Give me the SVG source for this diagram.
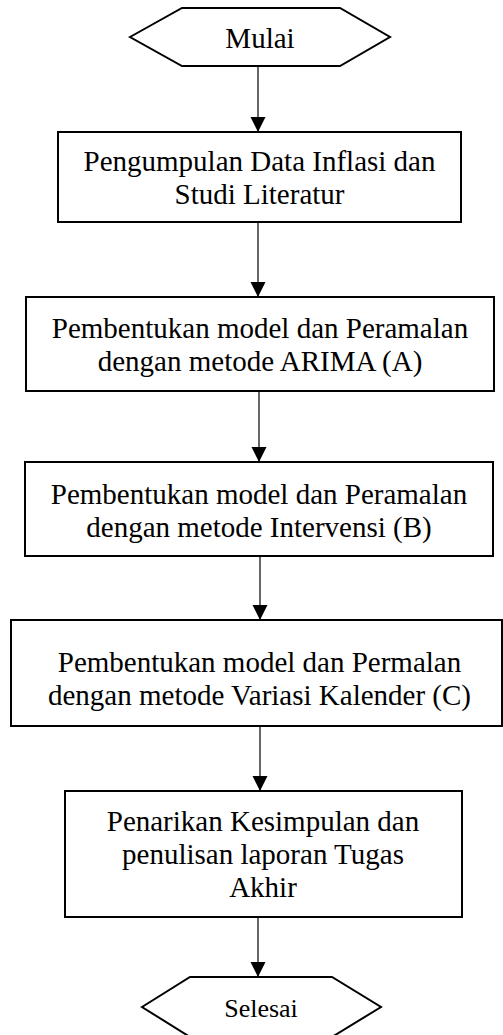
<svg xmlns="http://www.w3.org/2000/svg" width="503" height="1035" viewBox="0 0 503 1035">
<style>
.box{fill:#fff;stroke:#000;stroke-width:2}
.t{font-family:"Liberation Serif","Times New Roman",serif;font-size:29px;fill:#000;text-anchor:middle}
.ts{font-family:"Liberation Serif","Times New Roman",serif;font-size:26px;fill:#000;text-anchor:middle}
.c{stroke:#000;stroke-width:1.2;fill:none;marker-end:url(#ah)}
</style>
<defs>
<marker id="ah" markerUnits="userSpaceOnUse" markerWidth="16" markerHeight="16" viewBox="0 0 16 16" refX="15" refY="8" orient="auto">
<path d="M0,0.5 L15,8 L0,15.5 Z" fill="#000"/>
</marker>
</defs>
<rect width="503" height="1035" fill="#fff"/>
<g id="connectors">
<line class="c" x1="258" y1="66" x2="258" y2="132"/>
<line class="c" x1="258" y1="222" x2="258" y2="297"/>
<line class="c" x1="259" y1="391" x2="259" y2="462"/>
<line class="c" x1="260" y1="556" x2="260" y2="620"/>
<line class="c" x1="260" y1="726" x2="260" y2="791"/>
<line class="c" x1="258" y1="917" x2="258" y2="977"/>
</g>
<g id="mulai">
<polygon class="box" points="130,37 182,8 340,8 390,37 340,66 182,66"/>
<text class="t" x="260" y="48">Mulai</text>
</g>
<g id="pengumpulan">
<rect class="box" x="58" y="132" width="403" height="90"/>
<text class="t" x="259.5" y="171">Pengumpulan Data Inflasi dan</text>
<text class="t" x="259.5" y="204">Studi Literatur</text>
</g>
<g id="arima">
<rect class="box" x="26" y="297" width="468" height="94"/>
<text class="t" x="260" y="338">Pembentukan model dan Peramalan</text>
<text class="t" x="260" y="371">dengan metode ARIMA (A)</text>
</g>
<g id="intervensi">
<rect class="box" x="25" y="462" width="468" height="94"/>
<text class="t" x="259" y="504">Pembentukan model dan Peramalan</text>
<text class="t" x="259" y="537">dengan metode Intervensi (B)</text>
</g>
<g id="variasi">
<rect class="box" x="11" y="620" width="491" height="106"/>
<text class="t" x="259.5" y="672">Pembentukan model dan Permalan</text>
<text class="t" x="259.5" y="705">dengan metode Variasi Kalender (C)</text>
</g>
<g id="kesimpulan">
<rect class="box" x="65" y="791" width="397" height="126"/>
<text class="t" x="263" y="831">Penarikan Kesimpulan dan</text>
<text class="t" x="263" y="864">penulisan laporan Tugas</text>
<text class="t" x="263" y="897">Akhir</text>
</g>
<g id="selesai">
<polygon class="box" points="142,1007 190,977 332,977 381,1007 332,1037 190,1037"/>
<text class="ts" x="261" y="1017">Selesai</text>
</g>
</svg>
